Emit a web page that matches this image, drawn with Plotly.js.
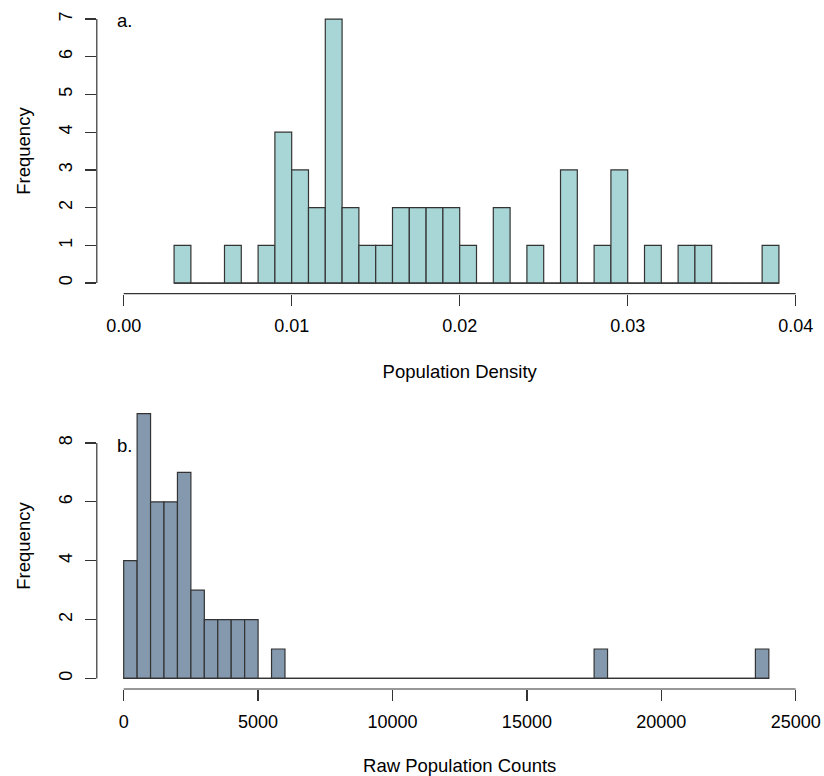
<!DOCTYPE html>
<html><head><meta charset="utf-8">
<script src="https://cdn.plot.ly/plotly-3.0.1.min.js"></script>
<style>html,body{margin:0;padding:0;background:#fff}#chart{width:824px;height:776px}</style>
</head><body><div id="chart"></div>
<script>
// Panel a: population density histogram
const densityBinStart = 0.003;
const densityBinWidth = 0.001;
const densityCounts = [1,0,0,1,0,1,4,3,2,7,2,1,1,2,2,2,2,1,0,2,0,1,0,3,0,1,3,0,1,0,1,1,0,0,0,1];
const densityTicks = [0,0.01,0.02,0.03,0.04];
const densityTickLabels = ["0.00","0.01","0.02","0.03","0.04"];
const densityYTicks = [0,1,2,3,4,5,6,7];

// Panel b: raw population counts histogram
const countBinStart = 0;
const countBinWidth = 500;
const countCounts = [4,9,6,6,7,3,2,2,2,2,0,1,
  0,0,0,0,0,0,0,0,0,0,0,0,0,0,0,0,0,0,0,0,0,0,0,
  1,
  0,0,0,0,0,0,0,0,0,0,0,
  1];
const countTicks = [0,5000,10000,15000,20000,25000];
const countTickLabels = ["0","5000","10000","15000","20000","25000"];
const countYTicks = [0,2,4,6,8];

const W = 824, H = 776;
const FONT = '"Liberation Sans", Arial, Helvetica, sans-serif';
const INK = '#333333';

function centers(start, width, n){ const c=[]; for(let i=0;i<n;i++) c.push(start+(i+0.5)*width); return c; }
function rng(lo, hi){ const e=(hi-lo)*0.04; return [lo-e, hi+e]; }

const dCenters = centers(densityBinStart, densityBinWidth, densityCounts.length);
const cCenters = centers(countBinStart, countBinWidth, countCounts.length);
const dEnd = densityBinStart + densityBinWidth*densityCounts.length;
const cEnd = countBinStart + countBinWidth*countCounts.length;

const traces = [
  {type:'scatter', mode:'lines', x:[densityBinStart, dEnd], y:[0,0], xaxis:'x', yaxis:'y',
   line:{color:INK, width:1.2}, hoverinfo:'skip', showlegend:false},
  {type:'bar', x:dCenters, y:densityCounts, width:densityBinWidth, xaxis:'x', yaxis:'y',
   marker:{color:'#A8D5D5', line:{color:INK, width:1.2}}, showlegend:false},
  {type:'scatter', mode:'lines', x:[countBinStart, cEnd], y:[0,0], xaxis:'x2', yaxis:'y2',
   line:{color:INK, width:1.2}, hoverinfo:'skip', showlegend:false},
  {type:'bar', x:cCenters, y:countCounts, width:countBinWidth, xaxis:'x2', yaxis:'y2',
   marker:{color:'#8499AE', line:{color:INK, width:1.2}}, showlegend:false}
];

const xDom = [96.8/W, 822.6/W];
const topDom = [1-293.6/H, 1-8.5/H];
const botDom = [1-689/H, 1-403/H];

const tickFont = {family:FONT, size:18, color:'#000'};
const titleFont = {family:FONT, size:18.5, color:'#000'};

function xAxis(dom, anchor, r, tv, tt, title){
  return {domain:dom, anchor:anchor, range:r, tickmode:'array', tickvals:tv, ticktext:tt,
    ticks:'outside', ticklen:11, tickwidth:1.2, tickcolor:INK, showline:false, showgrid:false,
    zeroline:false, tickfont:tickFont, ticklabelstandoff:5, fixedrange:true,
    title:{text:title, font:titleFont, standoff:29}};
}
function yAxis(dom, anchor, r, tv, title){
  return {domain:dom, anchor:anchor, range:r, tickmode:'array', tickvals:tv, ticktext:tv.map(String),
    ticks:'outside', ticklen:11, tickwidth:1.2, tickcolor:INK, showline:false, showgrid:false,
    zeroline:false, tickfont:tickFont, tickangle:-90, ticklabelstandoff:6, fixedrange:true,
    title:{text:title, font:titleFont, standoff:20}};
}

const shapes = [
  {type:'line', xref:'x', yref:'y domain', x0:densityTicks[0], x1:densityTicks[densityTicks.length-1], y0:0, y1:0, line:{color:INK, width:1.2}},
  {type:'line', xref:'x domain', yref:'y', x0:0, x1:0, y0:densityYTicks[0], y1:densityYTicks[densityYTicks.length-1], line:{color:INK, width:1.2}},
  {type:'line', xref:'x2', yref:'y2 domain', x0:countTicks[0], x1:countTicks[countTicks.length-1], y0:0, y1:0, line:{color:INK, width:1.2}},
  {type:'line', xref:'x2 domain', yref:'y2', x0:0, x1:0, y0:countYTicks[0], y1:countYTicks[countYTicks.length-1], line:{color:INK, width:1.2}}
];

const layout = {
  width:W, height:H, margin:{l:0,r:0,t:0,b:0}, paper_bgcolor:'#fff', plot_bgcolor:'#fff',
  bargap:0, showlegend:false, font:{family:FONT},
  xaxis: xAxis(xDom, 'y', rng(densityTicks[0], densityTicks[densityTicks.length-1]), densityTicks, densityTickLabels, 'Population Density'),
  yaxis: yAxis(topDom, 'x', rng(densityYTicks[0], densityYTicks[densityYTicks.length-1]), densityYTicks, 'Frequency'),
  xaxis2: xAxis(xDom, 'y2', rng(countTicks[0], countTicks[countTicks.length-1]), countTicks, countTickLabels, 'Raw Population Counts'),
  yaxis2: yAxis(botDom, 'x2', rng(0, 9), countYTicks, 'Frequency'),
  shapes: shapes,
  annotations: [
    {text:'a.', xref:'paper', yref:'paper', x:115/W, y:1-20/H, xanchor:'left', yanchor:'middle', showarrow:false, font:titleFont},
    {text:'b.', xref:'paper', yref:'paper', x:115/W, y:1-446/H, xanchor:'left', yanchor:'middle', showarrow:false, font:titleFont}
  ]
};

Plotly.newPlot('chart', traces, layout, {displayModeBar:false, staticPlot:true});
</script></body></html>
